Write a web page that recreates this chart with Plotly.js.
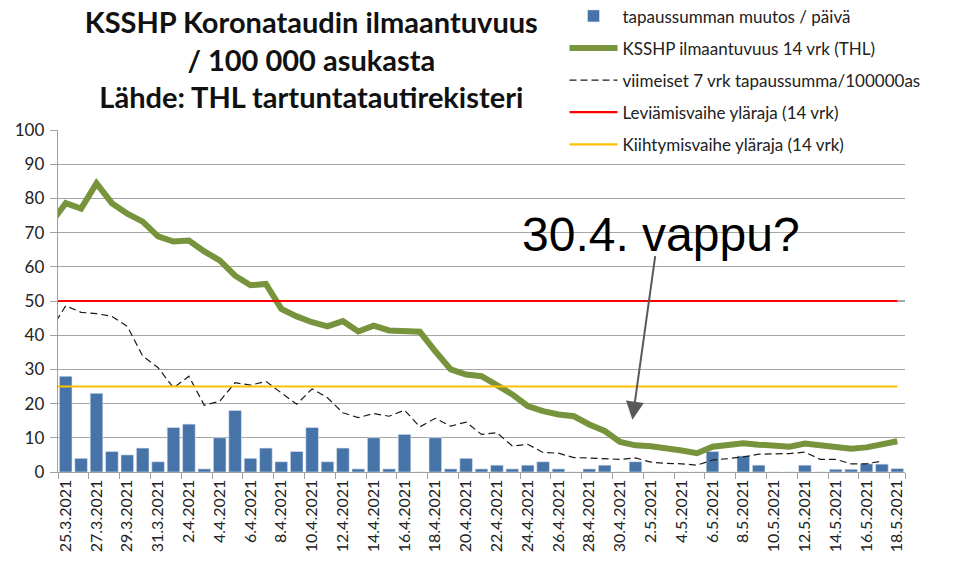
<!DOCTYPE html>
<html>
<head>
<meta charset="utf-8">
<script src="https://cdn.plot.ly/plotly-3.0.1.min.js"></script>
<style>html,body{margin:0;padding:0;background:#fff;}#chart{width:958px;height:567px;}</style>
</head>
<body>
<div id="chart"></div>
<script>
// Categories (first one only carries the line values leading in from the left edge)
const dates = ["24.3.2021","25.3.2021","26.3.2021","27.3.2021","28.3.2021","29.3.2021","30.3.2021","31.3.2021",
  "1.4.2021","2.4.2021","3.4.2021","4.4.2021","5.4.2021","6.4.2021","7.4.2021","8.4.2021","9.4.2021","10.4.2021",
  "11.4.2021","12.4.2021","13.4.2021","14.4.2021","15.4.2021","16.4.2021","17.4.2021","18.4.2021","19.4.2021","20.4.2021",
  "21.4.2021","22.4.2021","23.4.2021","24.4.2021","25.4.2021","26.4.2021","27.4.2021","28.4.2021","29.4.2021","30.4.2021",
  "1.5.2021","2.5.2021","3.5.2021","4.5.2021","5.5.2021","6.5.2021","7.5.2021","8.5.2021","9.5.2021","10.5.2021",
  "11.5.2021","12.5.2021","13.5.2021","14.5.2021","15.5.2021","16.5.2021","17.5.2021","18.5.2021"];
const tickLabels = ["25.3.2021","27.3.2021","29.3.2021","31.3.2021","2.4.2021","4.4.2021","6.4.2021","8.4.2021",
  "10.4.2021","12.4.2021","14.4.2021","16.4.2021","18.4.2021","20.4.2021","22.4.2021","24.4.2021","26.4.2021",
  "28.4.2021","30.4.2021","2.5.2021","4.5.2021","6.5.2021","8.5.2021","10.5.2021","12.5.2021","14.5.2021",
  "16.5.2021","18.5.2021"];
// tapaussumman muutos / päivä
const dailyChange = [null,28,4,23,6,5,7,3,13,14,0.9,10,18,4,7,3,6,13,3,7,0.9,10,0.9,11,0,10,0.9,4,0.9,2,0.9,2,3,0.9,0,0.9,2,0,3,0,0,0,0,6,0,4.7,2,0,0,2,0,0.8,0.8,2.4,2.3,1];
// KSSHP ilmaantuvuus 14 vrk (THL)
const incidence14 = [72.6,78.6,77.0,84.4,78.6,75.5,73.2,68.9,67.4,67.7,64.5,61.9,57.4,54.6,55.0,47.7,45.5,43.8,42.6,44.1,
  41.1,42.8,41.4,41.0,41.0,35.3,30.0,28.5,28.0,25.4,22.7,19.3,17.8,16.8,16.3,13.9,12.0,8.8,7.8,7.5,7.0,6.3,5.5,7.4,7.9,
  8.4,8.0,7.8,7.4,8.3,7.8,7.4,6.8,7.2,8.0,9.0];
// viimeiset 7 vrk tapaussumma/100000as
const last7 = [41.4,48.6,46.7,46.3,45.5,42.6,33.9,30.5,24.6,28.0,19.5,20.7,26.1,25.4,26.5,23.2,19.8,24.3,21.7,17.3,
  15.9,17.1,16.3,18.1,13.2,15.7,13.4,14.6,11.0,11.5,7.6,8.1,5.7,5.5,4.2,4.1,4.0,3.7,4.1,2.9,2.5,2.4,2.0,3.5,3.9,
  4.4,5.2,5.2,5.4,5.8,3.7,3.7,2.4,2.4,3.2,null];
const spreadLimit = 50;   // Leviämisvaihe yläraja
const accelLimit = 25;    // Kiihtymisvaihe yläraja
const seriesNames = ["tapaussumman muutos / päivä","KSSHP ilmaantuvuus 14 vrk (THL)","viimeiset 7 vrk tapaussumma/100000as",
  "Leviämisvaihe yläraja (14 vrk)","Kiihtymisvaihe yläraja (14 vrk)"];

const ends = [dates[0], dates[dates.length-1]];
const traces = [
  {type:'bar', x:dates, y:dailyChange, name:seriesNames[0], marker:{color:'#4674a9', line:{color:'#dfe6ef', width:0.6}}, legendgroup:'a'},
  {type:'scatter', mode:'lines', x:dates, y:incidence14, name:seriesNames[1], line:{color:'#77933c', width:6}, legendgroup:'b'},
  {type:'scatter', mode:'lines', x:dates, y:last7, name:seriesNames[2], line:{color:'#1a1a1a', width:1.2, dash:'7px,4px'}, legendgroup:'c'},
  {type:'scatter', mode:'lines', x:ends, y:[spreadLimit,spreadLimit], name:seriesNames[3], line:{color:'#ff0000', width:2.2}, legendgroup:'d'},
  {type:'scatter', mode:'lines', x:ends, y:[accelLimit,accelLimit], name:seriesNames[4], line:{color:'#ffc000', width:2.2}, legendgroup:'e'}
];

const layout = {
  width:958, height:567,
  margin:{l:58, r:53, t:130, b:95, autoexpand:false},
  paper_bgcolor:'#fff', plot_bgcolor:'#fff',
  font:{family:'Lato, "Open Sans", sans-serif', color:'#222'},
  bargap:0.18,
  showlegend:true,
  title:{text:'KSSHP Koronataudin ilmaantuvuus<br>/ 100 000 asukasta<br>Lähde: THL tartuntatautirekisteri',
    font:{family:'Lato, sans-serif', size:29, color:'#111', weight:'bold'},
    x:0.325, xref:'container', xanchor:'center', y:1-33/567, yref:'container', yanchor:'middle'},
  legend:{x:0.598, y:1.385, xanchor:'left', yanchor:'top', bgcolor:'rgba(0,0,0,0)',
    font:{size:17, color:'#222'}, traceorder:'grouped', tracegroupgap:7, itemwidth:48},
  xaxis:{type:'category', categoryorder:'array', categoryarray:dates, range:[0.5, dates.length-0.5],
    tickmode:'array', tickvals:tickLabels, ticktext:tickLabels, tickangle:-90, tickson:'boundaries',
    ticks:'outside', ticklen:6, tickcolor:'#a0a0a0', showgrid:false, showline:true, linecolor:'#a0a0a0', linewidth:1.3,
    tickfont:{size:16, color:'#222'}, zeroline:false},
  yaxis:{range:[0,100], dtick:10, tick0:0, showgrid:true, gridcolor:'#a6a6a6', gridwidth:1.3,
    showline:true, linecolor:'#a0a0a0', linewidth:1.3, ticks:'outside', ticklen:7, tickcolor:'#a0a0a0',
    tickfont:{size:17, color:'#222'}, zeroline:false, ticklabelstandoff:2},
  annotations:[
    {text:'30.4. vappu?', xref:'x', yref:'y', x:'3.5.2021', y:69.5, xshift:-5, showarrow:false,
     font:{family:'"Liberation Sans", Arial, sans-serif', size:48, color:'#000'}, xanchor:'center', yanchor:'middle'},
    {text:'', xref:'x', yref:'y', x:37.8, y:15.3, showarrow:true, arrowhead:2, arrowsize:1.8, arrowwidth:2,
     arrowcolor:'#595959', axref:'pixel', ayref:'pixel', ax:23, ay:-165, standoff:0}
  ]
};

Plotly.newPlot('chart', traces, layout, {displayModeBar:false, staticPlot:true});
</script>
</body>
</html>
